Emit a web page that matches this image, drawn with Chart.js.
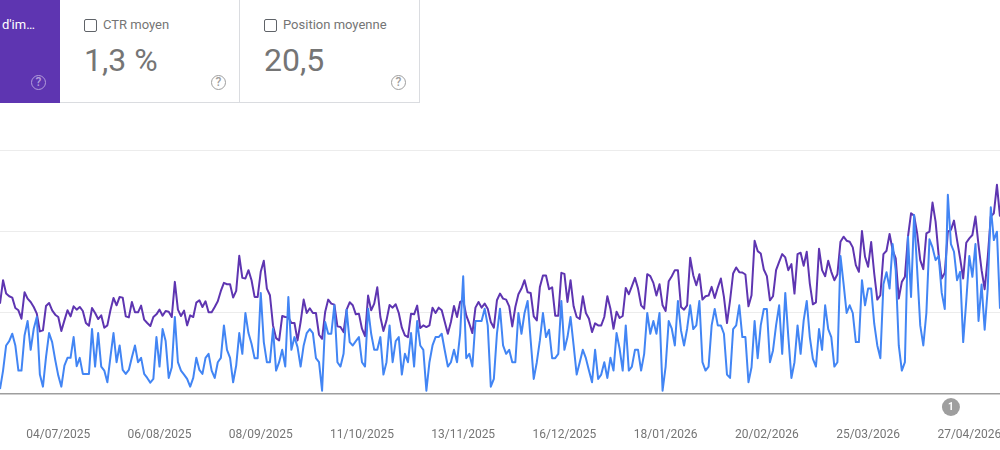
<!DOCTYPE html>
<html lang="fr">
<head>
<meta charset="utf-8">
<title>Performances</title>
<script src="https://cdn.jsdelivr.net/npm/chart.js@4"></script>
<style>
    html, body { margin: 0; padding: 0; background: #fff; overflow: hidden; }
    body { width: 1000px; height: 450px; position: relative; font-family: Roboto, sans-serif; }
    #chart-box { position: absolute; left: 0; top: 0; width: 1000px; height: 450px; }
    .card { position: absolute; top: 0; height: 102px; box-sizing: content-box; background: #fff; border-bottom: 1px solid #dadce0; border-right: 1px solid #dadce0; color: #5f6368; }
    .card.purple { left: 0; width: 60px; background: #5e35b1; border: 0; height: 103px; color: #fff; }
    .card.ctr { left: 60px; width: 179px; }
    .card.pos { left: 240px; width: 179px; }
    .box { position: absolute; left: 24px; top: 19px; width: 11px; height: 11px; border: 1px solid #5f6368; border-radius: 2px; }
    .name { position: absolute; left: 43px; top: 17px; font-size: 13px; line-height: 16px; color: #757575; white-space: nowrap; }
    .purple .name { left: 2px; color: #fff; }
    .value { position: absolute; left: 24px; top: 40px; font-size: 32px; line-height: 40px; color: #757575; white-space: nowrap; }
    .help { position: absolute; left: 151px; top: 75px; width: 13px; height: 13px; border: 1.5px solid #9e9e9e; border-radius: 50%; font-size: 12px; font-weight: 500; line-height: 13px; text-align: center; color: #9e9e9e; }
    .purple .help { left: 31px; border-color: #b39ddb; color: #b39ddb; }
</style>
</head>
<body>
<div id="chart-box"><canvas id="perfChart"></canvas></div>
<div class="card purple"><span class="name">d'im…</span><span class="help">?</span></div>
<div class="card ctr"><span class="box"></span><span class="name">CTR moyen</span><span class="value">1,3 %</span><span class="help">?</span></div>
<div class="card pos"><span class="box"></span><span class="name">Position moyenne</span><span class="value">20,5</span><span class="help">?</span></div>
<script>
// no y axis is shown in the picture, so values are in plain chart units (gridline every 243)
const impressions = [
    270, 340, 300, 292, 288, 257, 250, 225, 304, 285,
    275, 260, 240, 187, 190, 263, 272, 250, 237, 230,
    188, 220, 250, 232, 262, 252, 260, 248, 212, 204,
    257, 242, 224, 235, 198, 205, 250, 287, 265, 290,
    288, 232, 229, 275, 244, 244, 264, 222, 212, 203,
    230, 238, 252, 234, 248, 246, 230, 335, 252, 233,
    249, 205, 235, 230, 273, 280, 260, 277, 244, 244,
    260, 277, 308, 332, 328, 328, 288, 308, 413, 347,
    345, 370,
    340, 290, 290, 365, 398, 315, 295, 205, 167, 160,
    233, 230, 229, 212, 212, 160, 215, 282, 242, 256,
    242, 242, 177, 165, 245, 282, 270, 267, 202, 200,
    185, 252, 274, 265, 238, 240, 195, 173, 294, 250,
    270, 319, 230, 188, 220, 266, 258, 268, 242, 198,
    175, 170, 240, 238, 264, 197, 205, 200, 205, 258,
    242, 258, 250, 215, 180, 215, 263, 230, 275, 280,
    235, 210, 182, 258, 275, 258, 270, 255, 215, 198,
    280, 300,
    285, 282, 262, 202, 260, 298, 315, 340, 304, 302,
    232, 220, 320, 354, 354, 313, 319, 234, 234, 362,
    359, 275, 340, 262, 230, 224, 292, 242, 225, 185,
    211, 205, 205, 230, 292, 255, 195, 246, 227, 233,
    317, 298, 322, 347, 315, 265, 255, 358, 352, 332,
    294, 328, 265, 248, 337, 352, 370, 370, 260, 252,
    265, 407, 355, 325, 358, 282, 292, 294, 320, 287,
    318, 345, 290, 212, 280, 360, 378, 364, 363, 357,
    262,
    295, 458, 427, 420, 372, 352, 280, 292, 370, 395,
    418, 408, 370, 388, 300, 418, 422, 383, 425, 330,
    268, 274, 434, 370, 352, 398, 365, 340, 358, 455,
    470, 458, 455, 438, 385, 365, 487, 410, 380, 454,
    360, 282, 295, 418, 428, 478, 430, 405, 285, 335,
    350, 470, 540, 533, 480, 400, 373, 480, 485, 572,
    515, 415, 345, 362, 485, 490, 518, 460, 405, 345,
    452, 465, 475, 530, 445, 370, 313, 408, 530, 540,
    625, 530
];
const clicks = [
    15, 70, 145, 158, 180, 145, 70, 70, 175, 218,
    132, 195, 230, 58, 22, 110, 182, 155, 102, 55,
    22, 85, 108, 108, 170, 83, 108, 60, 60, 60,
    194, 82, 182, 82, 70, 35, 110, 182, 95, 145,
    72, 60, 72, 110, 145, 95, 108, 60, 48, 34,
    45, 170, 82, 194, 158, 48, 80, 230, 95, 70,
    58, 45, 22, 48, 108, 72, 60, 108, 120, 70,
    48, 95, 108, 205, 132, 108, 35, 85, 182, 120,
    242, 182,
    150, 107, 107, 302, 155, 95, 95, 195, 70, 95,
    132, 82, 290, 132, 170, 140, 82, 145, 182, 194,
    182, 107, 95, 10, 215, 180, 180, 265, 95, 82,
    120, 252, 155, 145, 158, 170, 95, 82, 255, 180,
    132, 132, 170, 58, 95, 205, 95, 158, 170, 58,
    120, 95, 182, 82, 218, 145, 132, 10, 95, 145,
    170, 170, 180, 130, 82, 95, 132, 95, 180, 352,
    107, 120, 82, 218, 218, 218, 255, 205, 22, 45,
    180, 255,
    145, 120, 132, 95, 95, 242, 180, 242, 278, 160,
    45, 95, 160, 242, 170, 192, 107, 107, 120, 278,
    132, 170, 230, 145, 58, 95, 132, 107, 70, 35,
    132, 45, 58, 95, 48, 108, 70, 182, 135, 70,
    205, 70, 82, 132, 132, 70, 120, 242, 180, 218,
    180, 242, 10, 82, 218, 195, 145, 278, 190, 145,
    195, 265, 194, 205, 278, 95, 70, 82, 205, 254,
    205, 205, 180, 58, 48, 194, 205, 265, 170, 170,
    35,
    80, 218, 107, 205, 254, 254, 95, 130, 205, 265,
    120, 302, 170, 48, 95, 205, 120, 220, 278, 170,
    105, 82, 194, 132, 265, 194, 170, 82, 95, 412,
    330, 242, 265, 242, 155, 155, 340, 265, 315, 315,
    210, 145, 107, 328, 364, 315, 448, 370, 145, 70,
    95, 470, 290, 535, 370, 205, 145, 242, 462, 438,
    400, 412, 302, 254, 595, 448, 425, 340, 365, 155,
    278, 412, 350, 448, 218, 327, 192, 315, 558, 460,
    485, 255
];
const tickLabels = ['04/07/2025', '06/08/2025', '08/09/2025', '11/10/2025', '13/11/2025',
    '16/12/2025', '18/01/2026', '20/02/2026', '25/03/2026', '27/04/2026'];
const annotationLabel = '21/04/2026';

// one point per day, starting 15/06/2025
const days = clicks.map((c, i) => {
    const d = new Date(Date.UTC(2025, 5, 15 + i));
    return String(d.getUTCDate()).padStart(2, '0') + '/' + String(d.getUTCMonth() + 1).padStart(2, '0') + '/' + d.getUTCFullYear();
});

// little grey bubble under the axis
const annotationPlugin = {
    id: 'annotationBubble',
    afterDraw(chart) {
        const x = chart.scales.x.getPixelForValue(days.indexOf(annotationLabel));
        const c = chart.ctx;
        c.save();
        c.fillStyle = '#9e9e9e';
        c.beginPath();
        c.arc(x, 407, 9, 0, Math.PI * 2);
        c.fill();
        c.fillStyle = '#fff';
        c.font = 'bold 10px Roboto';
        c.textAlign = 'center';
        c.textBaseline = 'middle';
        c.fillText('1', x, 407);
        c.restore();
    }
};

new Chart(document.getElementById('perfChart'), {
    type: 'line',
    data: {
        labels: days,
        datasets: [
            { label: 'Clics', data: clicks, borderColor: '#4285f4', borderWidth: 2, borderJoinStyle: 'round', pointRadius: 0, tension: 0 },
            { label: 'Impressions', data: impressions, borderColor: '#5e35b1', borderWidth: 2, borderJoinStyle: 'round', pointRadius: 0, tension: 0 }
        ]
    },
    options: {
        responsive: true,
        maintainAspectRatio: false,
        animation: false,
        layout: { padding: { top: 150, left: 0, right: 0, bottom: 0 } },
        plugins: { legend: { display: false }, tooltip: { enabled: false } },
        scales: {
            x: {
                offset: false,
                grid: { display: false },
                border: { display: false },
                afterFit: scale => {
                    scale.height = 56;
                    scale.paddingLeft = 0;
                    scale.paddingRight = 0;
                },
                ticks: {
                    autoSkip: false,
                    maxRotation: 0,
                    padding: 26,
                    color: '#757575',
                    font: { family: 'Roboto', size: 12 },
                    callback: function (value) {
                        const label = this.getLabelForValue(value);
                        return tickLabels.includes(label) ? label : null;
                    }
                }
            },
            y: {
                min: 0,
                max: 729,
                border: { display: false },
                afterFit: scale => { scale.width = 0; },
                grid: {
                    drawTicks: false,
                    color: ctx => ctx.tick.value === 0 ? '#9e9e9e' : '#ececec',
                    lineWidth: ctx => ctx.tick.value === 0 ? 1.5 : 1
                },
                ticks: { display: false, stepSize: 243 }
            }
        }
    },
    plugins: [annotationPlugin]
});
</script>
</body>
</html>
